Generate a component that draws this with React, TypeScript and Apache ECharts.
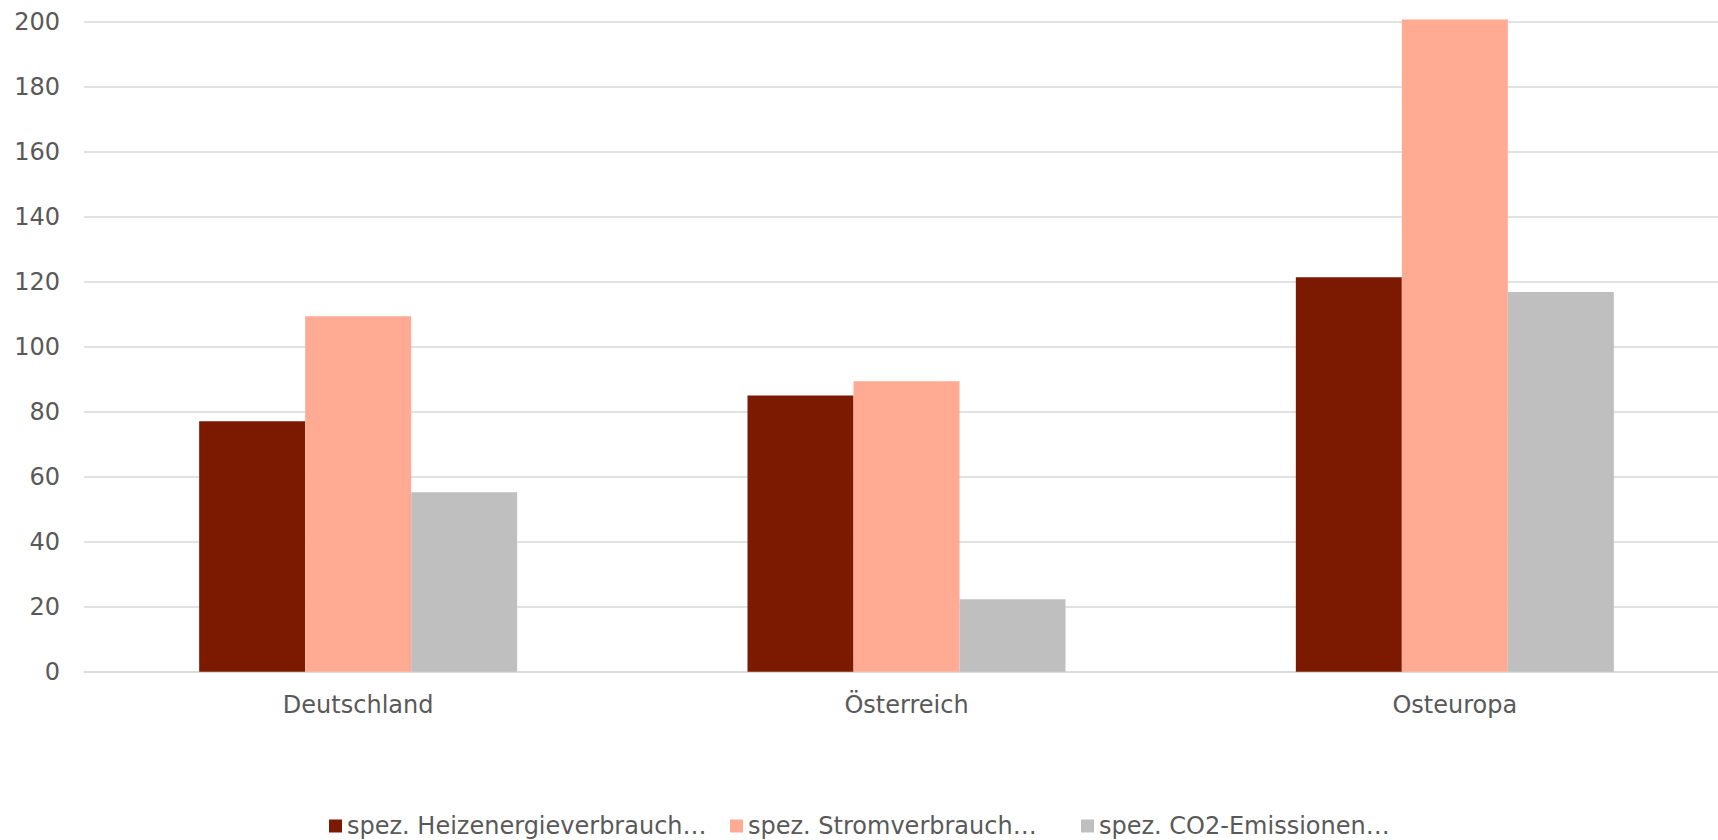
import React, { useEffect, useRef } from "react";
import * as echarts from "echarts";

const categories = ["Deutschland", "Österreich", "Osteuropa"];
const seriesNames = [
  "spez. Heizenergieverbrauch…",
  "spez. Stromverbrauch…",
  "spez. CO2-Emissionen…",
];
const heizValues = [77.1, 85.0, 121.4];
const stromValues = [109.4, 89.4, 200.7];
const co2Values = [55.2, 22.3, 116.8];
const yTicks = { min: 0, max: 200, interval: 20 };

const colors = ["#7B1A00", "#FFAB94", "#BFBFBF"];
const FONT = "'DejaVu Sans', Verdana, sans-serif";
const TEXT = "#595959";

export default function App() {
  const ref = useRef<HTMLDivElement>(null);
  useEffect(() => {
    if (!ref.current) return;
    const chart = echarts.init(ref.current, undefined, { renderer: "svg" });
    const values = [heizValues, stromValues, co2Values];
    const legendLefts = [329, 730, 1081];
    chart.setOption({
      animation: false,
      backgroundColor: "#ffffff",
      textStyle: { fontFamily: FONT },
      grid: {
        left: 84,
        top: 21.7,
        height: 650,
        width: 1645,
        containLabel: false,
        outerBoundsMode: "none",
      },
      legend: seriesNames.map((n, i) => ({
        data: [n],
        left: legendLefts[i],
        top: 814,
        padding: 0,
        itemWidth: 13,
        itemHeight: 13,
        itemGap: 0,
        icon: "rect",
        textStyle: { color: TEXT, fontSize: 24, fontFamily: FONT },
      })),
      xAxis: {
        type: "category",
        data: categories,
        axisLine: { show: true, lineStyle: { color: "#D9D9D9", width: 1.5 } },
        axisTick: { show: false },
        axisLabel: { color: TEXT, fontSize: 24, fontFamily: FONT, margin: 21 },
      },
      yAxis: {
        type: "value",
        min: yTicks.min,
        max: yTicks.max,
        interval: yTicks.interval,
        axisLine: { show: false },
        axisTick: { show: false },
        axisLabel: { color: TEXT, fontSize: 24, fontFamily: FONT, margin: 24 },
        splitLine: { lineStyle: { color: "#D9D9D9", width: 1.5 } },
      },
      series: seriesNames.map((n, i) => ({
        name: n,
        type: "bar",
        data: values[i],
        barWidth: 106,
        barGap: "0%",
        clip: false,
        itemStyle: { color: colors[i] },
      })),
    });
    return () => chart.dispose();
  }, []);
  return (
    <div
      ref={ref}
      style={{ position: "fixed", left: 0, top: 0, width: 1718, height: 840, overflow: "hidden" }}
    />
  );
}
